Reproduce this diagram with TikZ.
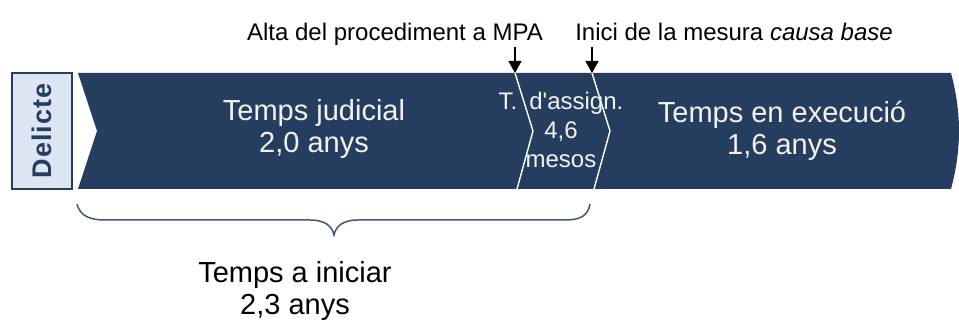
\documentclass[tikz,border=0pt]{standalone}
\usepackage{fontspec}
\setmainfont{Liberation Sans}
\newfontfamily\nomapfont{Liberation Sans}[Ligatures=ResetAll]
\usetikzlibrary{arrows.meta}
\definecolor{navy}{HTML}{253E5F}
\definecolor{paleblue}{HTML}{DCE6F2}
\definecolor{bracecol}{HTML}{3E5878}
\definecolor{bandtext}{HTML}{F2F2F2}
\tikzset{
  bandlabel/.style={text=bandtext, align=center, inner sep=0pt, font=\fontsize{29}{32}\selectfont},
  smalllabel/.style={text=bandtext, align=center, inner sep=0pt, font=\fontsize{24}{29}\selectfont},
  toplabel/.style={text=black, inner sep=0pt, anchor=base, font=\fontsize{24}{28}\selectfont},
  sepline/.style={draw=white, line width=1.4pt, line join=miter},
  markarrow/.style={draw=black, line width=1.3pt, -{Triangle[width=13pt,length=12pt]}},
}
\begin{document}
\begin{tikzpicture}[x=1pt,y=-1pt]
\useasboundingbox (0,0) rectangle (959,320);
% Delicte box
\node[draw=navy, line width=1.2pt, fill=paleblue, minimum width=60pt, minimum height=116pt, inner sep=0pt] (delicte) at (42,131) {};
\node[rotate=90, text=navy, inner sep=0pt, font=\fontsize{27}{30}\selectfont\bfseries] (delictetext) at (delicte.center) {D\kern1pt e\kern1pt l\kern1pt i\kern1pt c\kern1pt t\kern1pt e};
% main band
\fill[navy] (78,73) -- (951,73) .. controls (957,95) and (959,115) .. (959,131) .. controls (959,147) and (957,167) .. (951,189) -- (78,189) -- (97,131) -- cycle;
% separators
\coordinate (s1top) at (515,73);
\coordinate (s1mid) at (533,131);
\coordinate (s1bot) at (517,189);
\coordinate (s2top) at (592,73);
\coordinate (s2mid) at (610,131);
\coordinate (s2bot) at (594,189);
\draw[sepline] (s1top) -- (s1mid) -- (s1bot);
\draw[sepline] (s2top) -- (s2mid) -- (s2bot);
% band texts (base = baseline of last line)
\node[bandlabel, anchor=base] (judicial) at (314,153) {Temps judicial\\2,0 anys};
\node[bandlabel, anchor=base] (execucio) at (782,155) {Temps en execució\\1,6 anys};
\node[smalllabel, anchor=base] (assign) at (561,168) {T.\hspace{12pt}d{\nomapfont '}assign.\\4,6\\mesos};
% top labels
\node[toplabel] (alta) at (395,41) {Alta del procediment a MPA};
\node[toplabel] (inici) at (734,41) {Inici de la mesura \textit{causa base}};
\coordinate (a1start) at (515,47);
\coordinate (a2start) at (592,47);
\draw[markarrow] (a1start) -- (s1top);
\draw[markarrow] (a2start) -- (s2top);
% brace
\draw[draw=bracecol, line width=1.5pt] (77,204) .. controls (80,216) and (90,220) .. (105,220) -- (310,220) .. controls (325,220) and (332,226) .. (334,235) .. controls (336,226) and (343,220) .. (358,220) -- (565,220) .. controls (580,220) and (588,216) .. (590,204);
\node[text=black, align=center, inner sep=0pt, anchor=base, font=\fontsize{29}{32}\selectfont] (iniciar) at (295,315) {Temps a iniciar\\2,3 anys};
\end{tikzpicture}
\end{document}
